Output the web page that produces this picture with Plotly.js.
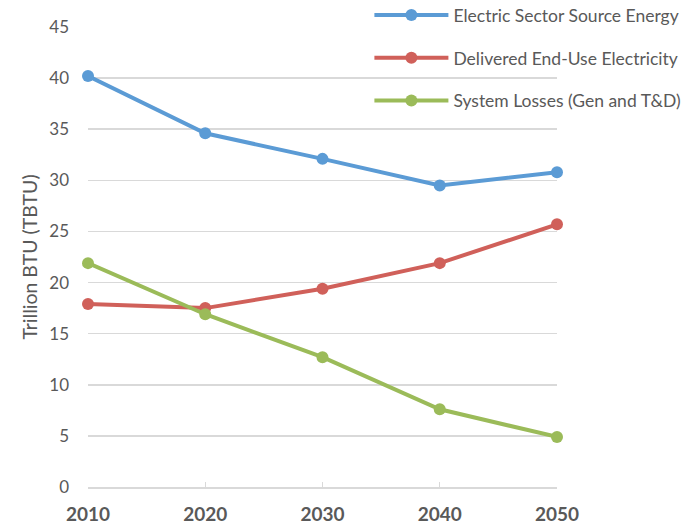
<!DOCTYPE html>
<html>
<head>
<meta charset="utf-8">
<script src="https://cdn.plot.ly/plotly-3.0.1.min.js"></script>
<style>html,body{margin:0;padding:0;background:#fff;}#chart{width:699px;height:525px;}</style>
</head>
<body>
<div id="chart"></div>
<script>
var years = [2010, 2020, 2030, 2040, 2050];
var sourceEnergy = [40.2, 34.6, 32.1, 29.5, 30.8];
var deliveredElectricity = [17.9, 17.5, 19.4, 21.9, 25.7];
var systemLosses = [21.9, 16.9, 12.7, 7.6, 4.9];
var seriesNames = ["Electric Sector Source Energy", "Delivered End-Use Electricity", "System Losses (Gen and T&D)"];
var seriesColors = ["#5b9bd5", "#d0605a", "#9bbb59"];
var yTicks = [0, 5, 10, 15, 20, 25, 30, 35, 40, 45];

var font = "Lato, 'Open Sans', sans-serif";
var seriesData = [sourceEnergy, deliveredElectricity, systemLosses];
var traces = seriesData.map(function (vals, i) {
  return {
    x: years, y: vals, name: seriesNames[i], type: "scatter", mode: "lines+markers",
    line: {color: seriesColors[i], width: 4},
    marker: {color: seriesColors[i], size: 12},
    cliponaxis: false,
    legendgroup: "g" + i
  };
});

var layout = {
  width: 699, height: 525,
  margin: {l: 88, r: 142, t: 27, b: 38, autoexpand: false},
  paper_bgcolor: "#fff", plot_bgcolor: "#fff",
  font: {family: font, color: "#595959", size: 15},
  showlegend: true,
  legend: {
    x: 0.6, y: 1.065, xanchor: "left", yanchor: "top",
    font: {family: font, size: 17.5, color: "#595959"},
    traceorder: "grouped", tracegroupgap: 17,
    bgcolor: "rgba(0,0,0,0)", itemwidth: 74
  },
  xaxis: {
    range: [2010, 2050], tickvals: years, ticktext: years.map(String),
    showgrid: false, zeroline: false,
    showline: true, linecolor: "#d9d9d9", linewidth: 1.5,
    ticks: "inside", ticklen: 5, tickcolor: "#d9d9d9",
    ticklabelstandoff: 10,
    tickfont: {family: font, size: 19, color: "#595959", weight: "bold"},
    fixedrange: true
  },
  yaxis: {
    range: [0, 45], tickvals: yTicks,
    showgrid: true, gridcolor: "#d9d9d9", gridwidth: 1.5,
    zeroline: false, showline: false, ticks: "",
    ticklabelstandoff: 18,
    tickfont: {family: font, size: 17, color: "#595959"},
    title: {text: "Trillion BTU (TBTU)", font: {family: font, size: 19.5, color: "#595959"}, standoff: 6},
    fixedrange: true
  }
};

Plotly.newPlot("chart", traces, layout, {displayModeBar: false, staticPlot: true});
</script>
</body>
</html>
